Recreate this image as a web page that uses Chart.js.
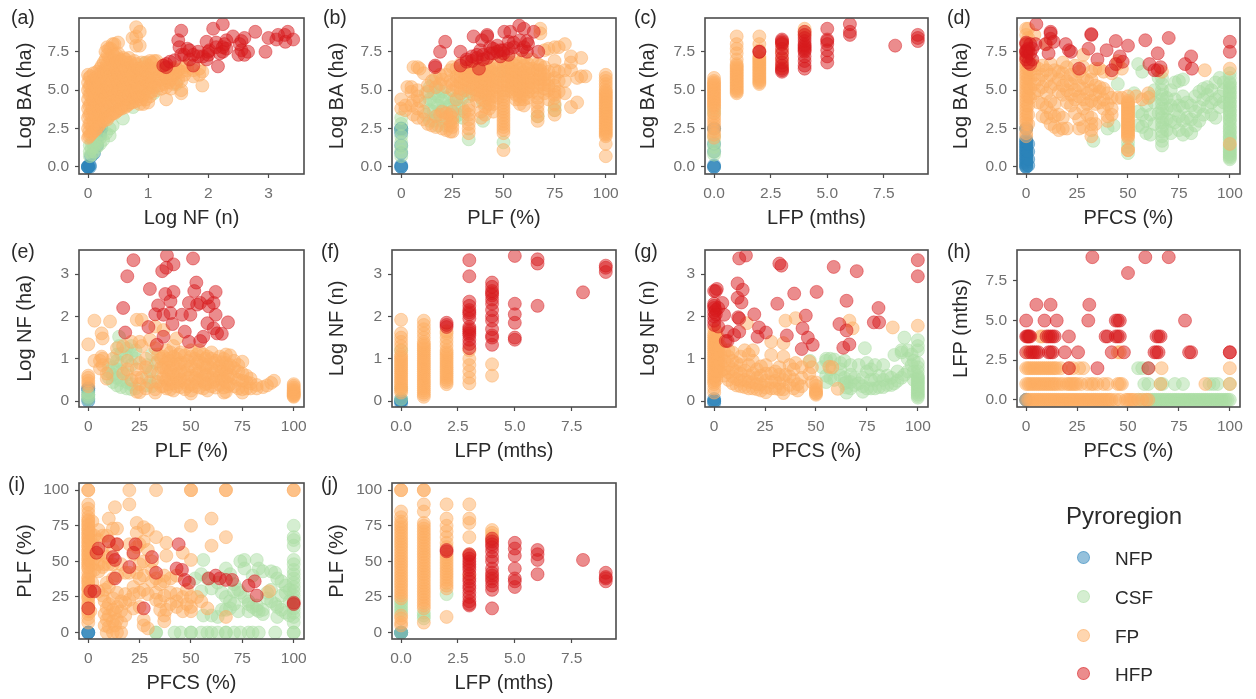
<!DOCTYPE html>
<html><head><meta charset="utf-8">
<script src="https://cdn.jsdelivr.net/npm/chart.js@4"></script>
<style>
html,body{margin:0;padding:0;background:#fff;width:1256px;height:699px;overflow:hidden}
#page{position:relative;width:1256px;height:699px;filter:blur(.55px);font-family:"Liberation Sans",Arial,sans-serif;color:#2a2a2a}
canvas{position:absolute;display:block}
.tag{position:absolute;font-size:19.5px;line-height:22px}
.lg{position:absolute;font-size:19px;line-height:22px}
.key{position:absolute;width:13px;height:13px;border-radius:50%;box-sizing:border-box}
</style></head><body><div id="page"></div>
<script>
// Each row is [position, value, value, ...]: one shared position with the values read at it.
const seriesNames = ['NFP','CSF','FP','HFP'];
const seriesColors = ['43,131,186','171,221,164','253,174,97','215,25,28'];
const ticksBA = [0,2.5,5,7.5], ticksNF = [0,1,2,3], ticksPct = [0,25,50,75,100], ticksLFP = [0,2.5,5,7.5];

// (a) Log NF vs Log BA
const aNFP = [[0,0,0,0,0.05],[0.03,0,0.1],[0.05,0.7],[0.1,0.9],[0.15,1.4],[0.2,2.1,2.3],[0.22,2.5,2.5]];
const aCSF = [[0.03,0.7,1,1.4],[0.06,0.8,1.2,1.6],[0.1,1,1.3,1.7],[0.15,1.3,1.6],[0.2,1.5,1.9],[0.25,1.75],[0.3,2.2,3.8,4],[0.36,2.05,2.5],[0.41,2.7],[0.58,3.15],[0.75,3.9],[0.94,6.75],[1.09,4.8],[1.47,5.4]];
const aFP = [[0,1.9,2.5,3.2,3.8,4.4,5,5.5,6],[0.02,2,2.3,2.8,3.4,4,4.7,5.2,5.8],[0.04,2.1,2.8,3.5,4.1,4.7,5.3,5.9],[0.07,2.2,2.6,3.2,3.8,4.4,5,5.6],[0.09,2.3,3,3.6,4.3,4.9,5.4,6.1],[0.12,2.4,2.8,3.4,4,4.6,5.2,5.8],[0.15,2.5,3.2,3.9,4.5,5.1,5.7,6.2],[0.18,2.7,3,3.6,4.2,4.8,5.4,6],[0.2,2.8,3.4,4.1,4.6,5.2,5.8,6.4],[0.23,3,3.3,3.9,4.4,5,5.6,6.2,6.6],[0.26,3,3.6,4.3,4.9,5.5,6.1,6.8],[0.29,3.2,3.9,4.5,5.1,5.7,6.4,7,7.5],[0.32,3.1,3.7,4.3,5,5.6,6.2,6.7,7.3,7.8],[0.35,3.3,4.2,4.9,5.3,5.9,6.5,7.1,7.7],[0.38,3.4,4,4.6,5.2,5.9,6.5,7.1,7.7],[0.41,3.5,4.3,5,5.6,6.2,6.8,7.4,8],[0.44,3.5,4.1,4.7,5.4,6,6.6,7.2,8],[0.47,3.6,4.4,5.1,5.7,6.3,6.9,7.3],[0.5,3.7,4.3,4.9,5.5,6.1,6.8,7.4,8.1],[0.53,3.8,4.6,5.2,5.8,6.5,7],[0.56,3.8,4.4,5,5.6,6.2,6.9],[0.59,4,4.7,5.3,5.9,6.6,7.1],[0.62,3.9,4.6,5.2,5.8,6.4,7],[0.65,4,4.4,5,5.6,6.2,6.8],[0.68,4.1,4.7,5.3,5.9,6.5,7.1],[0.71,4.2,5,5.6,6.2,6.8],[0.74,4.2,4.8,5.4,6,6.6,8.4],[0.77,4.5,5.1,5.7,6.3,6.9],[0.8,4.3,4.9,5.5,6.1,6.7,7.9,8.5,9.1],[0.83,4.6,5.2,5.8,6.4],[0.86,4.1,4.6,5.2,5.8,6.4,7.9,8.8],[0.89,4.4,5,5.6,6.2,6.8],[0.92,4.1,4.7,5.3,5.9,6.5],[0.96,4.4,5,5.6,6.2,6.8],[1,4.2,4.8,5.4,6,6.6],[1.03,4.6,5.2,5.8,6.4,6.9],[1.06,4.9,5.5,6.1,6.8],[1.1,5.2,5.8,6.4,6.9],[1.14,5,5.6,6.2,6.9],[1.18,5.3,5.9,6.5],[1.22,5.1,5.7,6.3],[1.26,5.4,6,6.6],[1.3,4.4,5.2,5.8,6.4],[1.34,5.5,6.1],[1.38,5.1,5.7,6.3],[1.42,5.4,6,6.4],[1.46,5.5,6.1,6.5],[1.5,5.7,6.3],[1.55,4.8,5,5.6,6.2],[1.6,6,6.5],[1.65,6.3,6.6],[1.75,5.9,6.3],[1.85,6,6.4],[1.9,5.3,6.2]];
const aHFP = [[1.25,6.6],[1.3,6.5,6.7],[1.36,6.85],[1.44,6.95],[1.5,8.25],[1.52,7.8],[1.55,8.87,7.3],[1.6,7.3],[1.65,7.7],[1.69,7.6,7],[1.75,6.6,7.3],[1.83,7.2,7.5],[1.91,7.2],[1.97,8.15,7],[2,7.3,7.5],[2.02,7.6],[2.08,9],[2.13,7.8,8.1],[2.16,6.55],[2.19,7.4],[2.24,9.3,7.8,7.5],[2.27,8],[2.3,8.25,7.7],[2.41,8.5],[2.5,7.3],[2.52,8],[2.55,7.6,8.2],[2.6,8.4,7.3],[2.66,7.5],[2.78,8.8],[2.95,7.5],[3,8.4],[3.13,8.3],[3.16,8.6],[3.27,8.6],[3.28,8.15],[3.32,8.8],[3.41,8.3]];

// (b) PLF vs Log BA
const bNFP = [[0,0,0,0.1,0.9,1.4,2.2,2.4,2.5,2.5]];
const bCSF = [[0,0.7,1,1.3,1.6,2,2.4,2.8,3.2],[12,3.4,4.2,4.8],[14,3,3.7,4.4,5.2],[16,3,3.6,4.2,4.8,5.6],[18,2.7,3.4,4,4.6,5.1],[20,3,3.7,4.3,4.9],[22,2.7,3.9,4.5],[24,4,4.7],[26,3.2,3.9,4.4],[28,3.4,4,4.6],[30,3.2,3.8,4.5],[33,1.8,4.6,4.9],[40,3,4.2],[48,6],[50,1.6,6.2],[66.7,3.3],[75,3.7,4]];
const bFP = [[0,3.8,4.4],[2,3.7,4],[3,5.2],[5,4,4.9,5.2],[6,3.4,4.3,6.5],[8,3.2,3.8,4.6,5,6.5],[9,6.4,4.3],[11,6.1,3.1,3.6],[13,2.8,4.9,5.3],[15,2.7,5.6],[17,2.6,3.3,5.2,5.8],[19,3.4,5.4,6],[20,2.5,3.6,5.7],[22,2.4,3.2,3.5,5.2,6],[24,2.3,2.7,3,3.4,5.6,6.3],[25,2.3,2.6,2.9,3.2,3.6,6.5,5,5.4],[27,4.4,5.2,5.6,5.9,6.4],[29,4.8,5.1,5.5,5.9,6.2,6.7],[31,3.6,5,5.4,5.7,6.1,6.4],[33,2.2,2.5,2.8,3.1,3.4,3.7,4,5.2,5.6,5.9,6.2,6.5],[35,4.7,5.1,5.4,5.8,6.1,6.4,6.7],[37,4.3,4.7,5,5.3,5.6,5.9,6.2,6.5],[39,3.2,3.6,4.5,4.9,5.2,5.5,5.8,6.1,6.4],[41,3.4,3.9,4.3,4.7,5,5.4,5.7,6,6.3,6.7],[43,3.8,4.1,4.4,4.7,5,5.3,5.6,5.9,6.2,6.5],[45,3.6,4.1,4.6,5,5.3,5.6,5.9,6.2,6.6],[47,4.5,4.9,5.2,5.5,5.8,6.1,6.4,6.8],[50,1.1,2.2,2.4,2.6,2.8,3,3.2,3.4,3.6,3.8,4,4.2,4.4,4.6,4.8,5,5.3,5.6,5.9,6.2,6.5,6.9],[52,5,5.3,5.6,5.9,6.2,6.5,6.8],[54,4.9,5.2,5.5,5.8,6.1,6.4,6.8],[56,4.4,4.7,5,5.3,5.6,5.9,6.2,6.6,7],[58,4.1,4.4,4.6,4.9,5.2,5.5,5.8,6.1,6.4,6.8],[60,4,4.4,4.7,5,5.3,5.6,5.9,6.2,6.6,7.1],[62,4.5,4.9,5.2,5.5,5.8,6.1,6.4,6.7],[64,4.9,5.2,5.5,5.8,6.1,6.4,7],[66.7,3,3.3,3.6,3.9,4.2,4.5,4.8,5.2,5.7,6.3,6.7],[68,5.4,5.7,6,6.3,6.6,8.7,9],[70,4.8,5.1,5.4,5.7,6,6.5,7.6],[72,4.4,5,5.3,5.7,6.2,7.7],[75,3.4,3.7,4.1,4.5,4.7,4.9,5.3,5.8,6.3,6.9,7.8],[77,4.9,5.6,6.2,7.8],[80,4.8,5.6,6.3,8],[83,3.9,6.3,6.8,7.2],[86,4.2,5.8],[88,7.1,5.9],[90,5.9],[100,0.7,1.5,2,2.1,2.2,2.3,2.4,2.5,2.6,2.7,2.8,2.9,3,3.1,3.2,3.3,3.4,3.5,3.6,3.7,3.8,3.9,4,4.1,4.2,4.3,4.4,4.5,4.6,4.7,4.8,4.9,5,5.2,5.4,5.6,5.8,6]];
const bHFP = [[16.6,6.5,6.6],[19,7.5],[21.5,8.15],[29,7.5,6.6],[32,6.85,7],[34.6,7.2,6.9],[35.4,8.5],[37,7.1,7.3],[38,6.4],[38.7,7.6],[39.5,8.25],[40,7.3,7],[42,8.6,7.1,8.5],[43.5,7.8,7.4],[45,7.4,7.7],[47,7.9,7.5],[48.5,7.2,7.6],[50,7.6,7.4],[50.4,8.8],[52.5,8.15,7.3,7.7],[53.3,8.8],[55,7.8,8.1],[57.7,9.2],[58,8.25],[59,7.6],[60,9,7.8],[61.5,7.5,8.2],[62,8],[64.8,8.8],[67,7.5]];

// (c) LFP vs Log BA
const cNFP = [[0,0,0,0.1,1,1.5,2.5,2.5]];
const cCSF = [[0,0.8,1,1.3,1.6,2,3.5,3.8]];
const cFP = [[0,1.9,2.1,2.3,2.5,2.7,2.9,3.1,3.3,3.5,3.7,3.9,4,4.1,4.2,4.3,4.4,4.5,4.6,4.7,4.8,4.9,5,5.1,5.2,5.3,5.4,5.5,5.6,5.8],[1,4.8,4.9,5,5.1,5.2,5.3,5.4,5.5,5.6,5.7,5.8,5.9,6,6.1,6.2,6.3,6.4,6.5,6.6,6.7,7,7.4,7.7,8,8.5],[2,5.4,5.5,5.6,5.7,5.8,5.9,6,6.1,6.2,6.3,6.4,6.5,6.6,6.7,6.8,6.9,7,7.1,7.2,7.6,8,8.5],[3,6.5,7,7.5,8],[4,8.6,8.8,9]];
const cHFP = [[2,7.5,7.5],[3,6.2,6.3,6.4,6.6,6.8,7.1,7.4,7.7,8,8.1,8.2,8.3],[4,6.4,6.6,6.9,7.2,7.5,7.6,7.7,7.8,7.9,8,8.2,8.4,8.6,8.8],[5,6.8,7.2,7.6,8,8.2,8.3,9],[6,8.6,8.8,9.3],[8,7.9],[9,8.2,8.4,8.6]];

// (d) PFCS vs Log BA
const dNFP = [[0,0,0,0.1,0.2,0.3,0.4,0.5,0.6,0.7,0.8,0.9,1,1.1,1.2,1.3,1.4,1.5,1.6,1.7,1.8,2.5,2.5],[1,0.1,0.5,1,1.5]];
const dCSF = [[33,1.7],[40,2.5],[43,2.7],[45,5.4],[50,0.9,1.3,1.6],[53,4.8],[55,2.7,3.6,6.7],[57,2.6,3.4,6.2],[59,2.2,3,4],[61,2.1,3.4,4.6],[63,2.8,4.2,5],[65,3.5,5.8],[66.7,1.4,1.7,2,2.3,2.6,2.9,3.2,3.5,3.8,4.1,4.4,4.7,5,5.4,5.8],[69,2.4,3.1,3.8,4.5],[71,2.2,3,4,5],[73,2.9,3.7,4.4,5.5],[75,2.4,3.3,4,5.6],[77,2.1,3,3.9,4.6,5.7],[79,2.4,3.2,4.2],[81,2.2,3.1,4],[83,2.7,3.6,4.6],[85,3,3.9,4.9],[87,3.4,4.4,5.1],[89,3.9,4.7,5.2],[91,3.4,4.2,5],[93,3.2,4.4,5.5],[95,3.9,4.6,5.8],[97,4.2,5,5.5],[100,0.5,0.6,0.7,0.8,0.9,1,1.1,1.2,1.3,1.4,1.6,1.8,1.9,2,2.2,2.3,2.5,2.6,2.8,3,3.1,3.3,3.4,3.6,3.7,3.9,4,4.2,4.3,4.5,4.6,4.8,4.9,5.1,5.2,5.4,5.5,5.8,6.1]];
const dFP = [[0,2,2.2,2.5,2.8,3,3.2,3.4,3.6,3.8,4,4.2,4.4,4.6,4.8,5,5.2,5.4,5.6,5.8,6,6.2,6.4,6.6,6.8,7,7.4,8,8.6,9],[1,2.8,3.4,4,4.6,5.2,5.8,6.4,8.4,9],[2,4.5,5.1,5.7,6.3,6.8],[4,4.8,5.4,6,6.6,8.6],[6,4.2,5,5.7,6.4],[8,3.3,4.1,5.2,6,6.6],[10,3.2,3.9,4.8,5.6,6.3,8],[12,2.8,3.5,4.3,5.2,6,6.7],[14,2.6,3.3,4.1,5.4,6.3],[16,2.4,3.4,4.9,5.7,6.2],[18,2.5,3.2,4.7,5.3,6.1,6.8],[20,2.5,4.2,5,5.6,6.5],[22,4,4.7,5.4,6],[24,3.5,4.4,5,5.8,6.6],[26,2.5,3.1,4.6,5.3,6.2],[28,2.6,3.8,4.4,5.1,5.8,6.5,7.3],[30,3.4,4.1,4.8,5.6],[32,2,2.4,2.8,3.2,4.3,5,5.7,6.2],[34,2.8,4.1,4.7,5.3,6.4],[36,4.2,4.9,5.2,6.4],[38,3.8,4.4,5.1,6.2],[40,3,3.3,4.1,4.8],[42,3.4,3.8,4.5,6.1],[45,4.5,6.7,6.9],[47,4.5,6.4],[50,1.1,1.1,1.9,2,2.1,2.2,2.3,2.4,2.5,2.6,2.7,2.8,2.9,3,3.1,3.2,3.3,3.4,3.5,3.6,3.7,3.8,3.9,4,4.1,4.2,4.3,4.6],[54,4.6],[57,4.4],[60,4.5,4.8],[66.7,6.2],[87.7,6.3],[100,1.5,6.4]];
const dHFP = [[0,7,7.2,7.5,7.5,7.6,8,8.1],[1,6.8,7.5,7.7],[2,6.7,7.4,8],[3,7,7.7],[4.6,8],[5,9.3],[9.5,8],[11,7.4],[12,8.8,8.35,8.7],[13.5,8.15],[19.4,8],[21,7.6],[22,7.5],[26,6.4],[30.6,7.7],[32,8.6,8.65],[35,7],[39.5,7.6],[42,6.3],[44,8.2,6.7],[46,7.2],[47.4,6.85],[50,7.9],[58.5,8.25],[60.5,6.7],[63,6.3],[64.6,7.4,6.3],[66,6.5],[70,8.4],[78,6.7],[81,7.2],[81.4,6.4],[100,8.15,7.5]];

// (e) PLF vs Log NF
const eNFP = [[0,0,0.05,0.15,0.25,0.3,0.3]];
const eCSF = [[0,0.05,0.1,0.15,0.2],[10,0.55,0.7,0.85],[12,0.45,0.62,0.8],[14,0.37,0.55,0.75,0.95,1.1],[15,1.52,1.3],[16,0.33,0.5,0.7,0.9,1.12],[18.7,0.3,0.45,0.62,1.25,1.05],[21,0.28,0.4,1.1,0.85,1.3],[23,0.3,1,1.2],[28.5,0.37,0.55,0.85],[31,0.35,0.7,1.1],[33,0.45,0.9]];
const eFP = [[0,0.35,0.42,0.48,0.55,0.6],[3,0.95,1.9],[0,1.34],[5.7,0.77,0.95],[6.5,1.6,1.05],[7,1.48,0.85,1],[9,0.53,0.65],[10.6,1.88],[12,1.0],[14,1.25],[17,1.3,0.65],[19,0.75,0.95],[21,1.4,0.5],[23.6,1.92,0.22,0.55,0.75],[25,0.21,0.4,1.4,0.9],[26,1.92,0.55,1.3],[28,0.8,1,0.3],[30,0.45,0.7,1.45],[32.6,0.2,0.28,1.76,1.25],[34,0.45,0.65,0.95,1.1],[35.5,0.35,0.8,1],[36.6,1.68,0.35,0.55,0.8,1.05],[38,0.3,0.5,0.7,0.9,1.2],[39,0.4,0.6,0.8,1],[40,0.28,0.5,0.72,0.95,1.15],[41.5,0.25,0.42,0.62,0.85,1.05,1.3],[43,1.48,0.35,0.55,0.78,1],[44,0.45,0.65,0.88,1.1],[45,0.33,0.5,0.7,0.9,1.15],[47,0.28,0.45,0.65,0.88,1.08],[48.5,0.35,0.55,0.75,0.95],[50,0.18,0.25,0.4,0.6,0.82,1.05,1.2],[52,0.35,0.55,0.75,1],[53,0.45,0.65,0.9,1.1],[54,0.32,0.5,0.7,0.95,1.2],[56,0.3,0.48,0.68,0.88,1.1],[57,0.4,0.6,0.8,1],[58,0.25,0.42,0.62,0.85,1.05],[60,0.35,0.55,0.78,1,1.15],[61,0.45,0.65,0.9],[62,0.32,0.5,0.72,0.95],[64,0.38,0.6,0.82,1.05],[65,0.5,0.7,0.92],[66,0.2,0.32,0.52,0.75,1],[67,0.22,0.45,0.68,0.9,1.1],[68,0.35,0.58,0.8],[69,0.4,0.62,0.85,1.08],[71,0.35,0.55,0.78,0.95],[73,0.3,0.5,0.7,0.85],[75,0.2,0.28,0.48,0.65,0.93],[77,0.3,0.45,0.6],[79,0.3,0.42,0.53],[82,0.3,0.38],[85,0.33],[87,0.37],[89,0.43],[90.4,0.48],[100,0.1,0.12,0.14,0.16,0.18,0.2,0.22,0.25,0.28,0.32,0.36,0.4]];
const eHFP = [[17,2.2],[18,1.62],[19,2.95],[22,3.33],[29.3,1.75],[30,2.65],[32.6,2.05],[33.4,1.33],[34,2.26],[36,3.07],[36.6,2.04,1.52],[37.5,2.53],[38,3.15],[38.3,3.44],[40,2.36,2.08],[41,1.82],[41.5,3.23,2.58],[45.6,2.04],[47,1.64],[49,2.32,1.4],[49.7,2.04],[51,3.37],[51.6,2.6],[52.6,2.8],[53,2.28],[54.5,2.32,1.42],[56,1.52],[58,2.44,1.84],[58.6,2.24],[61,2.32,1.72],[62,2.58,2.04],[62.7,1.6],[65,1.59],[68,1.86]];

// (f) LFP vs Log NF
const fNFP = [[0,0,0,-0.05,0.05]];
const fCSF = [[0,0.05,0.3,1.2]];
const fFP = [[0,0.2,0.25,0.3,0.35,0.4,0.45,0.5,0.55,0.6,0.65,0.7,0.75,0.8,0.85,0.9,0.95,1,1.05,1.1,1.2,1.3,1.4,1.5,1.6,1.92],[1,0.1,0.15,0.2,0.25,0.3,0.35,0.4,0.45,0.5,0.55,0.6,0.65,0.7,0.75,0.8,0.85,0.9,0.95,1,1.05,1.1,1.15,1.2,1.25,1.3,1.35,1.4,1.5,1.6,1.7,1.8,1.9],[2,0.4,0.45,0.5,0.55,0.6,0.65,0.7,0.75,0.8,0.85,0.9,0.95,1,1.05,1.1,1.15,1.2,1.3,1.4,1.5,1.6,1.65],[3,0.42,0.55,0.7,0.85,1,1.2],[4,0.6,0.87]];
const fHFP = [[2,1.75,1.8,1.85],[3,1.25,1.35,1.45,1.55,1.6,1.65,1.7,1.75,1.95,2.05,2.1,2.15,2.25,2.35,2.95,3.33],[4,1.33,1.5,1.55,1.7,1.9,2,2.15,2.3,2.4,2.5,2.55,2.6,2.7,2.8],[5,1.45,1.5,1.85,2.05,2.3,3.43],[6,2.25,3.25,3.35],[8,2.57],[9,3.05,3.15,3.2]];

// (g) PFCS vs Log NF
const gNFP = [[0,0,0,-0.05,0.05]];
const gCSF = [[47,0.95],[53,0.8],[55,0.45,0.6,0.95,1],[57,0.55,0.75,1],[59,0.5,0.98],[62,0.6,0.9,0.75],[64,0.42,0.55,0.95],[65,0.2,0.32,0.45],[67,0.3,0.45,0.62,0.85],[69,0.38,0.55],[71,0.42,0.85],[73,0.22,0.35,0.55],[74,1.25],[75,0.3,0.7,0.9],[77,0.3,0.5,0.75],[79,0.3,0.5,0.85],[81,0.33,0.6],[83,0.33,0.5,0.85],[85,0.38,0.6],[87,0.38,0.55],[88.5,0.42,1.09],[90,0.48,0.7],[92,0.55,1.15,1.2],[93.4,1.5,0.62],[95,0.7,1,1.2],[97,0.85,1.1],[98,0.95,0.5,0.7],[100,0.08,0.12,0.16,0.2,0.24,0.28,0.32,0.36,0.4,0.44,0.48,0.52,0.56,0.6,0.7,0.8,0.9,1.2,1.3,1.44]];
const gFP = [[0,0.2,0.3,0.4,0.45,0.5,0.55,0.6,0.65,0.7,0.75,0.8,0.85,0.9,0.95,1,1.05,1.1,1.15,1.2,1.25,1.3,1.35,1.4,1.45,1.5,1.55,1.6,1.7],[1,0.5,0.6,0.7,0.8,0.9,1,1.1,1.2,1.3,1.4,1.5,1.65],[2,0.7,0.8,0.9,1,1.1,1.2,1.3,1.5],[3,0.7,0.9,1.1,1.3],[5,0.6,0.75,0.95,1.15],[7,0.5,0.68,0.85,1.05,1.2],[9,0.42,0.58,0.75,0.95,1.15],[11,0.37,0.52,0.7,0.9],[13,0.35,0.48,0.65,0.85,1.05],[15,0.33,0.5,0.72,1.2],[16,1.84],[17,0.3,0.45,0.6,0.85,1.1],[19,0.3,0.45,0.65,0.95,1.2],[21,0.28,0.4,0.55,0.75],[23,0.25,0.4,0.6,0.82],[25.4,0.21,0.32,0.48,0.65,0.85],[28,0.3,0.45,0.65,1.09,1.4],[30,0.3,0.48,0.7],[32,0.28,0.42,0.62,0.8],[34,0.19,0.28,0.5,1.05,1.37],[35,1.9,0.62],[37,0.38,0.58,0.85],[39,0.3,0.5,0.75],[40,1.96,0.9],[41,0.25,0.4],[43,0.35,0.55,0.8],[46.7,0.65,0.93],[48,0.45,0.8],[50,0.15,0.18,0.2,0.24,0.28,0.36,0.44],[56.5,0.81],[58,0.8],[60.7,0.29],[66.4,1.9],[68,1.72],[87.7,1.74],[100,1.78]];
const gHFP = [[0,1.8,1.9,2,2.1,2.2,2.25,2.3,2.6],[0.8,2.6,2.05,2.15],[1.3,2.65],[2,1.76,2.2],[4,2.32],[4.9,2.04],[5.7,1.42],[6.6,1.64,1.42],[9.8,1.56],[11.5,2.78,2.44],[11.8,1.98],[12.3,3.37,1.64,1.95],[13.4,2.33],[14,2.63],[15.6,3.44],[19.7,2.05],[21.3,1.52],[22,1.74],[25.4,1.62],[31,2.3],[32,3.25],[33,3.2],[35.7,1.55],[39.3,2.54],[43,1.23],[43.4,1.72],[45,2.02],[46,1.5],[48.4,1.33],[50.3,2.58],[58.7,3.17],[61.5,1.82],[63.4,1.26],[65,2.37,1.67],[66.4,1.34],[70,3.07],[78.4,1.86],[80.7,2.2],[81,1.86],[100,3.33,2.95]];

// (h) PFCS vs LFP: rows, with the LFP value first and the PFCS values after it
const hNFP = [[0,0,0]];
const hCSF = [[2,55,57,60],[1,58,60,66,67,73,77,90,92,94,100],[0,55,57,59,61,62,63,64,65,66,67,68,69,70,71,72,73,74,75,76,77,78,79,80,81,82,83,84,85,86,87,88,89,90,91,92,93,94,95,96,97,98,99,100]];
const hFP = [[4,7,8],[3,1,45,46],[2,0,1,2,3,4,5,6,7,8,9,10,11,12,13,14,15,17,21,23,26,28,66.5,100],[1,0,1,2,3,4,5,6,7,8,9,10,11,12,13,14,15,16.5,18,20,21,22,23,24,25,27,30,32,33,35,38,40,45,46,47,66,88,100],[0,0,1,2,3,4,5,6,7,8,9,10,11,12,13,14,15,16,17,18,19,20,21,22,23,24,25,26,27,28,29,30,31,32,33,34,35,36,37,38,39,40,41,42,44,46,49,50,51,52,53,55,57,59,60]];
const hHFP = [[9,32.5,58.5,70],[8,50],[6,5,12,31],[5,0,9,15,30.5,44,45,46,78],[4,0,0.5,1,1.5,2,10,11,12,13,14,21,39,40,44,45,46,64,65,66],[3,0,2,3,4,5,6,11,12,13,19,25.5,42,48,63,64,65,80,81,100,100],[2,21,35,60]];

// (i) PFCS vs PLF
const iNFP = [[0,0,0,0]];
const iCSF = [[33,0,0],[42,0],[45,0],[50,0,0],[52,38],[55,0,29,41],[56,12,51],[58,0,38],[60,0,12,31],[63,0,11,35],[65,28,16],[67,0,0,45,25,16],[69,41,22,17],[71,0,34,29,20],[73,30,15],[74,0,50,28],[76,51,45,25],[78,0,22,20,15],[80,0,18,40],[82,51,19,16],[83,0,45,15],[85,43,13,16],[87,28,24],[89,22,43,30],[91,0,42,20],[92,11,38,18],[94,36,16,26],[96,33,14,28],[98,30,12,22],[100,0,0,7,11,14,17,20,23,26,29,32,35,38,41,44,48,51,61,65,67,75]];
const iFP = [[0,7,10,13,15,17,19,21,24,25,27,30,31,33,35,36,38,39,42,45,46,48,49,51,52,54,55,57,58,60,61,63,64,66,67,69,70,72,73,75,76,78,79,81,84,87,90,100,100],[1,15,28,42,50,56,65,70],[2,35,48,62,78],[3,44,52,68],[5,29,43,48,55,65,72],[7,26,46,56,68],[8,5,13,22,30,48],[9,0,9,17,35,53,68],[10,4,12,20,32,48,64,80],[12,0,8,16,24,38,48,58,73],[13,5,14,88],[14,0,9,18,28,40,62,73],[16,0,7,15,22,48],[18,12,21,27,42],[20,100,90,23,42,62],[22,17,27,32,55],[23.6,77,70,42,60],[25,18,28,38,48,62],[27,74,5,9,30,40,50,64],[29,3,27,58,72],[31,36,44,50],[33,100,67,23,28,38],[35,16,22,34],[37,8,12,26,36,40],[38,63,16,54],[40,20,28,38],[43,18,22,27,40],[46,15,25,56],[48,20,30],[50,100,100,75,15,18,25,51],[53,25],[55,22],[58,17],[60,80,61],[67,100,100,67,11],[88,29],[100,100,100]];
const iHFP = [[0,17],[1,29],[3,29],[4,56],[5,59],[10,64],[12,53],[13,51,38],[14,62],[20,46],[22,56],[23,62],[27,17],[31,53],[33,42],[43,45],[44,62],[45.6,44],[47,37],[49,35],[58.6,38],[62,40],[64,38],[67,37],[70,37],[78,33],[81,36],[82,26],[100,20,21]];

// (j) LFP vs PLF
const jNFP = [[0,0,0,0]];
const jCSF = [[0,0,14,16,18,20,22],[1,10,12,14],[2,27]];
const jFP = [[0,5,7,10,12,24,26,28,30,32,34,36,38,40,42,44,46,48,50,52,54,56,58,60,62,64,66,68,70,72,74,76,78,81,85,100,100],[1,7,17,19,21,23,25,27,29,31,33,35,37,39,41,43,45,47,49,51,53,55,57,59,61,63,65,67,69,71,73,75,77,85,90,100,100],[2,11,31,33,35,37,39,41,43,45,47,49,51,53,55,60,63,67,71,75,80,90],[3,40,55,67,77,80,90],[4,65,68,70,72]];
const jHFP = [[2,57,58],[3,19,20,22,25,28,31,33,36,38,41,44,46,48,50,52,54,55],[4,17,30,33,36,38,40,42,45,50,53,57,60,62,64,66],[5,32,36,38,45,54,59,63],[6,41,51,55,58],[8,51],[9,36,38,39,42]];

const expand = (rows, flip) => rows.flatMap(([p, ...vs]) => vs.map(v => flip ? {x:v, y:p} : {x:p, y:v}));

const RANGE = {
  NFx:[-0.15,3.59], BA:[-0.46,9.7], NFy:[-0.14,3.57], PCT:[-4.5,105], LFPx:[-0.4,9.45], LFPy:[-0.45,9.45]
};
const rowGeo = [{top:18,bottom:174,cTop:8,cBottom:230},{top:250,bottom:407,cTop:240,cBottom:463},{top:483,bottom:639,cTop:473,cBottom:695}];
const colGeo = [{left:79,right:304,cLeft:13,cRight:314},{left:392,right:616,cLeft:325,cRight:626},{left:705,right:928,cLeft:636,cRight:938},{left:1017,right:1240,cLeft:949,cRight:1250}];
const panels = [
 {tag:'(a)',tx:11,ty:6,r:0,c:0,xT:'Log NF (n)',yT:'Log BA (ha)',xR:RANGE.NFx,yR:RANGE.BA,xt:ticksNF,yt:ticksBA,xd:0,yd:1,s:[aNFP,aCSF,aFP,aHFP]},
 {tag:'(b)',tx:323,ty:6,r:0,c:1,xT:'PLF (%)',yT:'Log BA (ha)',xR:RANGE.PCT,yR:RANGE.BA,xt:ticksPct,yt:ticksBA,xd:0,yd:1,s:[bNFP,bCSF,bFP,bHFP]},
 {tag:'(c)',tx:634,ty:6,r:0,c:2,xT:'LFP (mths)',yT:'Log BA (ha)',xR:RANGE.LFPx,yR:RANGE.BA,xt:ticksLFP,yt:ticksBA,xd:1,yd:1,s:[cNFP,cCSF,cFP,cHFP]},
 {tag:'(d)',tx:947,ty:6,r:0,c:3,xT:'PFCS (%)',yT:'Log BA (ha)',xR:RANGE.PCT,yR:RANGE.BA,xt:ticksPct,yt:ticksBA,xd:0,yd:1,s:[dNFP,dCSF,dFP,dHFP]},
 {tag:'(e)',tx:11,ty:240,r:1,c:0,xT:'PLF (%)',yT:'Log NF (ha)',xR:RANGE.PCT,yR:RANGE.NFy,xt:ticksPct,yt:ticksNF,xd:0,yd:0,s:[eNFP,eCSF,eFP,eHFP]},
 {tag:'(f)',tx:321,ty:240,r:1,c:1,xT:'LFP (mths)',yT:'Log NF (n)',xR:RANGE.LFPx,yR:RANGE.NFy,xt:ticksLFP,yt:ticksNF,xd:1,yd:0,s:[fNFP,fCSF,fFP,fHFP]},
 {tag:'(g)',tx:634,ty:240,r:1,c:2,xT:'PFCS (%)',yT:'Log NF (n)',xR:RANGE.PCT,yR:RANGE.NFy,xt:ticksPct,yt:ticksNF,xd:0,yd:0,s:[gNFP,gCSF,gFP,gHFP]},
 {tag:'(h)',tx:947,ty:240,r:1,c:3,xT:'PFCS (%)',yT:'LFP (mths)',xR:RANGE.PCT,yR:RANGE.LFPy,xt:ticksPct,yt:ticksLFP,xd:0,yd:1,flip:true,s:[hNFP,hCSF,hFP,hHFP]},
 {tag:'(i)',tx:8,ty:473,r:2,c:0,xT:'PFCS (%)',yT:'PLF (%)',xR:RANGE.PCT,yR:RANGE.PCT,xt:ticksPct,yt:ticksPct,xd:0,yd:0,s:[iNFP,iCSF,iFP,iHFP]},
 {tag:'(j)',tx:321,ty:473,r:2,c:1,xT:'LFP (mths)',yT:'PLF (%)',xR:RANGE.LFPx,yR:RANGE.PCT,xt:ticksLFP,yt:ticksPct,xd:1,yd:0,s:[jNFP,jCSF,jFP,jHFP]}
];

const frame = {id:'frame',afterDatasetsDraw(ch){const a=ch.chartArea,c=ch.ctx;c.save();c.strokeStyle='#4c4c4c';c.lineWidth=1.6;c.strokeRect(a.left,a.top,a.right-a.left,a.bottom-a.top);c.restore();}};
const page = document.getElementById('page');
const TICK = '#6f6f6f', INK = '#2a2a2a';

function axis(title, range, vals, digits, fixedSize, isX){
  return {type:'linear',min:range[0],max:range[1],
    afterBuildTicks:s=>{s.ticks=vals.map(v=>({value:v}));},
    afterFit:s=>{ if(isX) s.height=fixedSize; else s.width=fixedSize; s.paddingTop=0;s.paddingBottom=0;s.paddingLeft=0;s.paddingRight=0; },
    grid:{drawOnChartArea:false,drawTicks:true,tickLength:4,tickColor:'#4c4c4c',tickWidth:1.2},
    border:{display:false},
    ticks:{autoSkip:false,maxRotation:0,minRotation:0,padding:isX?6:6,color:TICK,font:{family:'"Liberation Sans",Arial,sans-serif',size:15.5},callback:v=>Number(v).toFixed(digits)},
    title:{display:true,text:title,color:INK,padding:0,font:{family:'"Liberation Sans",Arial,sans-serif',size:20}}
  };
}

panels.forEach(p=>{
  const R=rowGeo[p.r],C=colGeo[p.c];
  const cv=document.createElement('canvas');
  const W=C.cRight-C.cLeft,H=R.cBottom-R.cTop;
  cv.width=W;cv.height=H;cv.style.cssText=`left:${C.cLeft}px;top:${R.cTop}px;width:${W}px;height:${H}px`;
  page.appendChild(cv);
  const t=document.createElement('div');t.className='tag';t.textContent=p.tag;t.style.left=p.tx+'px';t.style.top=p.ty+'px';page.appendChild(t);
  new Chart(cv,{type:'scatter',plugins:[frame],
    data:{datasets:seriesNames.map((n,i)=>({label:n,data:expand(p.s[i],p.flip),order:4-i,
      backgroundColor:`rgba(${seriesColors[i]},.5)`,borderColor:`rgba(${seriesColors[i]},.45)`,borderWidth:1,pointRadius:6.5,pointHoverRadius:6.5}))},
    options:{responsive:false,animation:false,devicePixelRatio:1,
      layout:{padding:{top:R.top-R.cTop,right:C.cRight-C.right,bottom:0,left:0}},
      plugins:{legend:{display:false},tooltip:{enabled:false},title:{display:false}},
      scales:{x:axis(p.xT,p.xR,p.xt,p.xd,R.cBottom-R.bottom,true),y:axis(p.yT,p.yR,p.yt,p.yd,C.left-C.cLeft,false)}}
  });
});

// legend
const legendTitle='Pyroregion';
const lgY=[557,596,635,673];
const ttl=document.createElement('div');ttl.className='lg';ttl.textContent=legendTitle;ttl.style.cssText='left:1066px;top:502px;font-size:24px;line-height:28px';page.appendChild(ttl);
seriesNames.forEach((n,i)=>{
  const k=document.createElement('div');k.className='key';k.style.cssText=`left:1077px;top:${lgY[i]-6.5}px;background:rgba(${seriesColors[i]},.5);border:1px solid rgba(${seriesColors[i]},.45)`;page.appendChild(k);
  const l=document.createElement('div');l.className='lg';l.textContent=n;l.style.left='1115px';l.style.top=(lgY[i]-9)+'px';page.appendChild(l);
});
</script></body></html>
